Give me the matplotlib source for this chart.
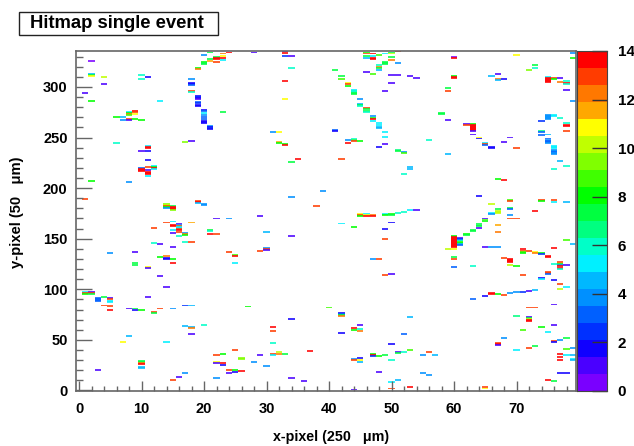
#!/usr/bin/env python3
"""Hitmap of a single event on an 80 x 336 pixel sensor."""

import numpy as np
import matplotlib
matplotlib.use("Agg")
import matplotlib.pyplot as plt
from matplotlib.colors import BoundaryNorm, ListedColormap
from matplotlib.patches import Rectangle

plt.rcParams['font.family'] = ['Liberation Sans', 'DejaVu Sans']

title = "Hitmap single event"
x_label = "x-pixel (250   \u03bcm)"
y_label = "y-pixel (50   \u03bcm)"
x_ticks = [0, 10, 20, 30, 40, 50, 60, 70]
y_ticks = [0, 50, 100, 150, 200, 250, 300]
z_ticks = [0, 2, 4, 6, 8, 10, 12, 14]

# 20 contour bands between 0 and 14
palette = ['#7a00ff', '#4a00ff', '#1000ff', '#0030ff', '#0060ff', '#0090ff',
           '#00b8ff', '#00f0ff', '#00ffc8', '#00ff80', '#00ff40', '#00ff00',
           '#40ff00', '#80ff00', '#c0ff00', '#ffff00', '#ffa800', '#ff7800',
           '#ff3c00', '#ff0000']

# hit rows and charge for each column, index is the x-pixel
hit_rows = [
    [],
    [294, 189, 97, 96, 95],
    [326, 313, 312, 311, 286, 207, 97, 96, 95],
    [91, 90, 89, 88, 20],
    [310, 303, 92, 84],
    [136, 91, 90, 88, 87, 84, 83, 80],
    [270, 245],
    [270, 267, 48],
    [275, 274, 273, 272, 268, 267, 206, 81, 54],
    [276, 275, 273, 268, 137, 126, 124, 81, 80],
    [312, 308, 267, 237, 220, 219, 218, 217, 80, 29, 28, 27, 26, 23, 22],
    [310, 242, 241, 240, 237, 228, 221, 218, 216, 215, 214, 212, 122, 121, 92],
    [222, 221, 220, 219, 161, 146, 78, 77],
    [286, 145, 132, 113, 81],
    [184, 183, 182, 181, 180, 166, 133, 131, 130, 102, 48],
    [182, 181, 180, 179, 178, 167, 164, 163, 159, 156, 142, 130, 126, 81, 10],
    [165, 164, 163, 162, 161, 160, 159, 157, 153, 13],
    [246, 156, 155, 154, 147, 84, 64, 17],
    [308, 304, 303, 302, 296, 295, 247, 166, 147, 84, 63, 62, 56],
    [319, 318, 291, 290, 289, 288, 285, 284, 282, 281, 187, 186, 185],
    [332, 325, 324, 323, 277, 276, 274, 272, 270, 268, 266, 265, 264, 184, 183, 65],
    [334, 328, 326, 261, 260, 259, 258, 159, 158, 155],
    [330, 329, 328, 325, 170, 155, 35, 28, 27, 12],
    [333, 331, 329, 327, 275, 36, 27, 25],
    [334, 170, 137, 20, 17],
    [134, 133, 126, 40, 20, 18],
    [32, 31, 19],
    [83],
    [334, 28],
    [172, 138, 35],
    [157, 141, 140, 139, 24],
    [255, 63, 59, 47, 36, 35],
    [255, 246, 245, 38, 36],
    [335, 334, 333, 331, 306, 288, 244, 243, 36],
    [331, 319, 226, 191, 153, 71, 12],
    [229],
    [9],
    [39],
    [182],
    [197],
    [82],
    [317, 257, 256],
    [311, 308, 229, 165, 77, 76, 75, 74, 57],
    [304, 303, 301, 248, 245],
    [297, 296, 295, 294, 293, 249, 248, 247, 162, 62, 60, 31, 30, 1],
    [288, 283, 282, 281, 247, 174, 173, 172, 65, 61, 59, 32, 30, 28],
    [334, 333, 331, 329, 315, 279, 278, 276, 275, 174, 173, 172],
    [333, 331, 329, 328, 313, 271, 269, 268, 266, 173, 172, 130, 36, 35, 34],
    [332, 322, 320, 319, 317, 264, 262, 260, 259, 241, 130, 34, 18],
    [333, 325, 324, 323, 296, 255, 251, 250, 244, 174, 173, 160, 150, 114, 35],
    [334, 333, 330, 327, 312, 304, 174, 173, 166, 115, 46, 30, 8, 2],
    [335, 324, 312, 238, 237, 175, 38, 37, 10],
    [236, 235, 214, 176, 56, 38],
    [311, 221, 219, 178, 73, 40, 3],
    [309, 178],
    [35, 17],
    [248, 38, 15],
    [35],
    [274, 273],
    [299, 296, 267, 234, 140],
    [330, 329, 311, 310, 309, 153, 152, 151, 150, 149, 148, 147, 146, 145, 144, 143, 142, 140, 132, 130, 122],
    [151, 150, 149, 148, 147, 146, 145, 144],
    [263, 262, 155, 154],
    [263, 262, 261, 260, 259, 258, 257, 256, 253, 159, 158, 123, 90],
    [250, 249, 192, 165, 164, 163, 161],
    [245, 244, 243, 170, 169, 168, 167, 142, 93, 3, 2],
    [311, 241, 240, 184, 175, 174, 142, 96, 95],
    [313, 308, 307, 209, 179, 177, 176, 175, 164, 157, 142, 95, 47, 46, 45],
    [308, 246, 208, 131, 94, 52],
    [250, 188, 187, 180, 179, 173, 170, 130, 129, 128, 127, 124, 96],
    [332, 240, 170, 123, 97, 74, 40],
    [140, 138, 137, 136, 114, 97, 60],
    [317, 138, 98, 82, 73, 72, 71, 70, 69, 42],
    [322, 319, 177, 137, 136, 99, 82, 44],
    [266, 256, 255, 253, 252, 188, 187, 136, 135, 111, 110, 63],
    [310, 309, 308, 307, 306, 305, 272, 271, 270, 269, 268, 253, 249, 248, 247, 246, 245, 133, 132, 117, 116, 115, 58, 10],
    [309, 308, 272, 271, 242, 241, 240, 238, 237, 236, 235, 234, 219, 188, 186, 141, 125, 109, 85, 65, 49, 48, 9],
    [309, 305, 269, 227, 127, 126, 125, 124, 123, 121, 120, 105, 100, 50, 36, 33, 30, 17],
    [306, 304, 303, 297, 264, 262, 261, 256, 222, 186, 149, 124, 102, 52, 41, 35, 17],
    [334, 333, 329, 286, 145, 42, 35, 31, 30],
]
hit_vals = [
    [],
    [1, 13, 5, 13, 8],
    [0.5, 4.8, 7.5, 10.5, 8, 8, 0.8, 13, 7],
    [3, 3, 3, 3, 0.8],
    [10, 1, 7, 13],
    [3.5, 1, 13, 5.5, 5.5, 13, 13, 14],
    [8, 5.6],
    [4.5, 3.5, 10.5],
    [5, 8, 12, 9, 13, 1, 3.8, 1, 4.2],
    [14, 13, 10.5, 8, 0.9, 7.5, 7.5, 7, 1.5],
    [5.6, 5.6, 8, 1, 3, 14, 14, 14, 8, 7, 7, 12, 14, 4.5, 4.5],
    [1.5, 5, 14, 14, 1.5, 2, 13, 1, 14, 14, 14, 5.5, 10.5, 1, 1],
    [5, 8, 14, 5, 13, 6, 13, 7],
    [5.5, 1, 8, 1, 13],
    [9.5, 10, 13, 8, 4, 13, 12, 2, 2, 0.9, 5],
    [7, 14, 14, 14, 9.5, 5, 14, 14, 5.5, 1, 0.8, 8, 14, 3.8, 13],
    [1, 3, 12, 5, 5, 13, 14, 13, 6, 1],
    [9.5, 3.8, 12, 8, 6, 2.5, 4.3, 3.8],
    [4, 2, 1.5, 3, 13, 6, 1, 11.5, 13, 4.5, 4.5, 12, 1],
    [8, 12, 1.8, 2.2, 1.5, 1, 3, 2.5, 2, 1.5, 13, 14, 4.5],
    [4, 8, 7, 7, 1.5, 3, 5, 4, 3, 3, 2, 1.8, 2, 4, 4, 6],
    [7, 7, 11.5, 3.5, 2, 2.5, 2, 7, 6, 14],
    [7, 14, 14, 13, 0.8, 13, 13, 10.5, 1, 3.8],
    [12, 10.5, 14, 5.5, 7.5, 8, 14, 1.5],
    [14, 4, 13, 13, 1],
    [9, 14, 5, 13, 8, 2],
    [9.5, 9.5, 14],
    [8],
    [0.7, 4],
    [0.9, 13, 1],
    [4.5, 4, 13, 1, 3.5],
    [3.5, 14, 13, 6, 13, 5],
    [10.5, 11.5, 8, 9.8, 12],
    [1, 14, 14, 2.5, 14, 10.5, 8, 14, 7],
    [1, 6, 7, 3.5, 1, 1.8, 1],
    [14],
    [1],
    [14],
    [13],
    [3.8],
    [9],
    [7.5, 3, 1.8],
    [7.5, 9, 13, 5, 2, 3, 7, 12, 1.5],
    [10.5, 13, 8, 3.5, 14],
    [5, 6, 6, 7, 7, 6, 7, 13, 8, 14, 8, 4, 13, 1],
    [3.5, 4.5, 7, 6, 8, 10.5, 13, 8, 0.9, 6, 12, 1.5, 10.5, 4.5],
    [8, 13, 7, 4.5, 1, 13, 7, 7, 6, 5, 10.5, 14],
    [14, 5, 14, 14, 9, 4, 8, 14, 5, 12, 14, 3.8, 8, 14, 2.5],
    [8.5, 5.6, 12, 7, 4.5, 5, 5, 4.5, 4.5, 1.8, 13, 8, 0.8],
    [5, 7.5, 7.5, 7.5, 0.8, 5, 5.5, 5, 1, 5, 8, 1.8, 13, 13, 7.5],
    [7.5, 10, 7, 12, 0.7, 0.8, 8, 7, 1.8, 0.9, 2, 6, 5, 13],
    [13, 3.8, 0.7, 6.5, 7, 6, 1, 7, 4.5],
    [4, 9, 6, 6, 3, 6],
    [0.8, 4.5, 4.5, 5.5, 4.5, 9, 14],
    [0.8, 1],
    [4, 4],
    [6, 13, 3.8],
    [4.5],
    [7.5, 7.5],
    [7, 13, 1, 4.5, 10],
    [0.5, 14, 8, 14, 14, 8, 14, 14, 14, 14, 14, 14, 14, 14, 14, 14, 14, 10.5, 7, 13, 2.8],
    [1, 2.5, 4, 6, 9, 8, 4.5, 3],
    [1, 13, 8, 7],
    [8, 14, 14, 14, 14, 14, 14, 1, 1, 7, 7, 6, 3],
    [10.5, 1.5, 1.8, 7, 7, 7, 0.9],
    [5, 13, 3, 1, 9, 8, 8, 0.9, 1.5, 13, 11],
    [4.5, 1.8, 1.8, 9.8, 5, 3.5, 3.8, 14, 14],
    [1, 12, 4.5, 8, 7, 10, 10, 10, 11.5, 12, 4, 8, 13, 14, 1],
    [2, 1, 14, 13, 13, 4],
    [1, 9, 13, 7, 3, 4, 13, 14, 14, 14, 14, 10, 3.8],
    [10.5, 13, 13, 8, 3.8, 6.5, 5],
    [14, 13, 9, 8, 13, 2.5, 9],
    [9.5, 13, 1, 13, 1, 7, 10, 14, 14, 13],
    [7.5, 6, 14, 11, 12, 4.5, 13, 7],
    [2.5, 6.5, 3, 3, 3, 13, 8, 8, 2.5, 2, 5.5, 8],
    [5, 14, 14, 14, 14, 14, 3.5, 3.5, 3.5, 3.5, 3.5, 4.5, 3, 3.5, 3, 3, 3.5, 14, 14, 13, 13, 3, 5, 14],
    [13, 8, 5, 5.5, 5, 5, 5, 3.5, 3.5, 3, 4, 3.5, 6, 13, 5, 14, 6, 1.8, 0.9, 1, 13, 2, 7],
    [1, 12, 6, 4.5, 13, 12, 7, 3.5, 14, 14, 6, 13, 10, 4, 14, 14, 14, 1.5],
    [6, 14, 6, 1, 6, 14, 14, 13, 6, 4.5, 9, 1, 5, 7, 8.5, 5, 1.5],
    [3.5, 3.5, 8, 4, 4.5, 4, 4.5, 5, 4.5],
]

W, H = 634, 446
frame_color = '#666666'


def fig_box(x0, y0, x1, y1):
    """Pixel box (y from the top) to figure fractions."""
    return [x0 / W, 1 - y1 / H, (x1 - x0) / W, (y1 - y0) / H]


z_levels = np.linspace(0, 14, len(palette) + 1)
cmap = ListedColormap(palette)
norm = BoundaryNorm(z_levels, cmap.N)

fig = plt.figure(figsize=(W / 100, H / 100), dpi=100, facecolor='white')

ax = fig.add_axes(fig_box(75.9, 51, 575.9, 391))
# a hit is one row tall, drawn a bit taller so it reads like the soft scan
for col, (rows, vals) in enumerate(zip(hit_rows, hit_vals, strict=True)):
    for row, val in zip(rows, vals, strict=True):
        ax.bar(col, 1.9, width=1.0, bottom=row - 0.95, color=cmap(norm(val)),
               alpha=0.8, linewidth=0)
ax.set_xlim(-0.5, 79.5)
ax.set_ylim(-0.5, 335.5)
ax.set_xticks(x_ticks)
ax.set_yticks(y_ticks)
ax.set_xticks(np.arange(0, 80, 2), minor=True)
ax.set_yticks(np.arange(0, 336, 10), minor=True)
ax.tick_params(axis='x', which='major', direction='in', length=7.2, width=1,
               color=frame_color, labelsize=10.5, pad=8)
ax.tick_params(axis='x', which='minor', direction='in', length=3.6, width=1, color=frame_color)
ax.tick_params(axis='y', which='major', direction='in', length=11.5, width=1,
               color=frame_color, labelsize=10.5, pad=6)
ax.tick_params(axis='y', which='minor', direction='in', length=5, width=1, color=frame_color)
for lab in ax.get_xticklabels() + ax.get_yticklabels():
    lab.set_fontweight('bold')
for spine in ax.spines.values():
    spine.set_color(frame_color)
    spine.set_linewidth(1.2)

# colour scale on the right
cax = fig.add_axes(fig_box(577, 51, 606.7, 391))
cax.pcolormesh([0, 1], z_levels, np.arange(len(palette)).reshape(-1, 1) + 0.5,
               cmap=cmap, vmin=0, vmax=len(palette))
cax.set_xlim(0, 1)
cax.set_ylim(0, 14)
cax.set_xticks([])
cax.yaxis.tick_right()
cax.set_yticks(z_ticks)
cax.tick_params(axis='y', direction='in', length=10.5, width=1, color='#333333',
                labelsize=11, pad=8)
for lab in cax.get_yticklabels():
    lab.set_fontweight('bold')
for spine in cax.spines.values():
    spine.set_color('#444444')
    spine.set_linewidth(0.8)

fig.text(331 / W, 1 - 437 / H, x_label, ha='center', va='center', fontsize=10.3, fontweight='bold')
fig.text(17 / W, 1 - 212 / H, y_label, ha='center', va='center', rotation=90,
         fontsize=10.6, fontweight='bold')

# title box in the upper left corner
fig.add_artist(Rectangle((19 / W, 1 - 35 / H), 199 / W, 23 / H, transform=fig.transFigure,
                         facecolor='white', edgecolor='#222222', linewidth=1))
fig.text(30 / W, 1 - 23.5 / H, title, ha='left', va='center', fontsize=13.3, fontweight='bold')

fig.savefig('out.png', dpi=100)
